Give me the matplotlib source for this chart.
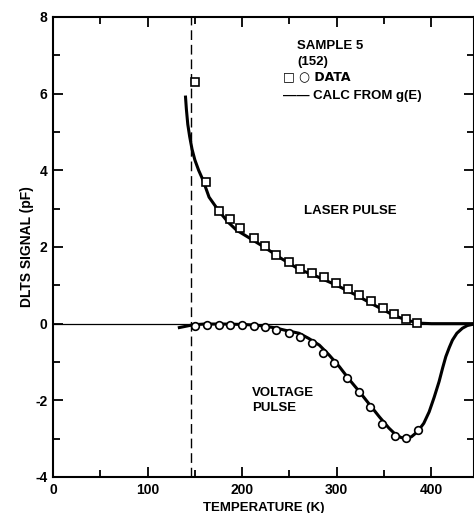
import matplotlib
matplotlib.use("Agg")
import matplotlib.pyplot as plt
from matplotlib.ticker import MultipleLocator

plt.rcParams['font.family'] = ['Liberation Sans', 'DejaVu Sans']
plt.rcParams['axes.unicode_minus'] = False

# Laser pulse data (squares)
laser_T = [150.5, 162, 175, 187, 198, 212.5, 224, 236, 249, 261, 273.5, 286,
           299, 311.5, 323.5, 336, 348.5, 361, 373, 385]
laser_S = [6.31, 3.70, 2.95, 2.72, 2.49, 2.24, 2.03, 1.79, 1.60, 1.43, 1.31, 1.21,
           1.05, 0.90, 0.75, 0.59, 0.40, 0.25, 0.11, 0.03]

# Voltage pulse data (circles)
volt_T = [150.5, 163, 175, 187, 199.5, 212, 224, 236, 249, 261, 273.5, 285.5,
          297, 311, 323.5, 335.5, 347.5, 361.5, 373.5, 385.7]
volt_S = [-0.06, -0.04, -0.03, -0.03, -0.04, -0.05, -0.09, -0.17, -0.25, -0.35,
          -0.50, -0.76, -1.03, -1.41, -1.78, -2.17, -2.61, -2.94, -2.98, -2.77]

# Calculated from g(E)
calc_laser_T = [140, 141, 142.5, 144.5, 147, 150, 154, 158.5, 165, 175, 185, 194,
                210, 225, 240, 260, 280, 300, 320, 340, 360, 375, 390, 400, 420, 445]
calc_laser_S = [5.95, 5.6, 5.2, 4.88, 4.55, 4.27, 4.0, 3.75, 3.3, 2.95, 2.65, 2.44,
                2.2, 1.97, 1.72, 1.42, 1.22, 1.0, 0.75, 0.48, 0.22, 0.08, 0.01,
                0.0, 0.0, 0.0]

calc_volt_T = [132, 140, 148, 160, 180, 200, 215, 225, 235, 245, 260, 270, 281.6,
               292, 302.7, 313, 323.8, 335, 345, 355, 362.5, 368, 373, 379, 385.3,
               392, 397.7, 403, 408.2, 412, 415.3, 419, 422.3, 427, 432.8, 438, 445]
calc_volt_S = [-0.11, -0.07, -0.03, -0.01, -0.01, -0.02, -0.04, -0.07, -0.11, -0.17,
               -0.25, -0.38, -0.56, -0.82, -1.12, -1.45, -1.77, -2.12, -2.43, -2.72,
               -2.90, -2.97, -2.99, -2.95, -2.82, -2.60, -2.30, -1.92, -1.51, -1.15,
               -0.86, -0.62, -0.43, -0.25, -0.12, -0.05, -0.01]

cutoff_T = 146

fig = plt.figure(figsize=(4.74, 5.13), dpi=100)
ax = fig.add_axes([0.1118, 0.0702, 0.888, 0.8967])

ax.axhline(0, color='black', lw=0.9)
ax.axvline(cutoff_T, color='black', lw=1.0, dashes=(7, 3.5))

ax.plot(calc_laser_T, calc_laser_S, color='black', lw=2.2, solid_capstyle='butt')
ax.plot(calc_volt_T, calc_volt_S, color='black', lw=2.2, solid_capstyle='butt')
ax.plot(laser_T, laser_S, ls='none', marker='s', ms=5.2, mfc='white', mec='black', mew=1.2)
ax.plot(volt_T, volt_S, ls='none', marker='o', ms=5.5, mfc='white', mec='black', mew=1.2)

ax.set_xlim(0, 445)
ax.set_ylim(-4, 8)
ax.xaxis.set_major_locator(MultipleLocator(100))
ax.xaxis.set_minor_locator(MultipleLocator(50))
ax.yaxis.set_major_locator(MultipleLocator(2))
ax.yaxis.set_minor_locator(MultipleLocator(1))
ax.tick_params(which='both', direction='in', top=True, right=True, width=1.3,
               labelsize=10, pad=4)
ax.tick_params(which='major', length=7)
ax.tick_params(which='minor', length=5)
for lab in ax.get_xticklabels() + ax.get_yticklabels():
    lab.set_fontweight('bold')
for s in ax.spines.values():
    s.set_linewidth(1.5)

ax.set_xlabel('TEMPERATURE (K)', fontsize=9.5, fontweight='bold', labelpad=4)
ax.set_ylabel('DLTS SIGNAL (pF)', fontsize=10, fontweight='bold', labelpad=1)

tkw = dict(transform=ax.transAxes, fontsize=9.5, fontweight='bold', va='center')
ax.text(0.5796, 0.937, 'SAMPLE 5', ha='left', **tkw)
ax.text(0.5796, 0.902, '(152)', ha='left', **tkw)
ax.text(0.546, 0.8696, '\u25a1 \u25cb DATA', ha='left', family=['DejaVu Sans'],
        fontsize=9, fontweight='bold', transform=ax.transAxes, va='center')
ax.text(0.546, 0.828, '\u2014\u2014 CALC FROM g(E)', ha='left', **tkw)
ax.text(0.7055, 0.578, 'LASER PULSE', ha='center', **tkw)
ax.text(0.4727, 0.1826, 'VOLTAGE', ha='left', **tkw)
ax.text(0.4727, 0.150, 'PULSE', ha='left', **tkw)

fig.savefig('out.png', dpi=100)
